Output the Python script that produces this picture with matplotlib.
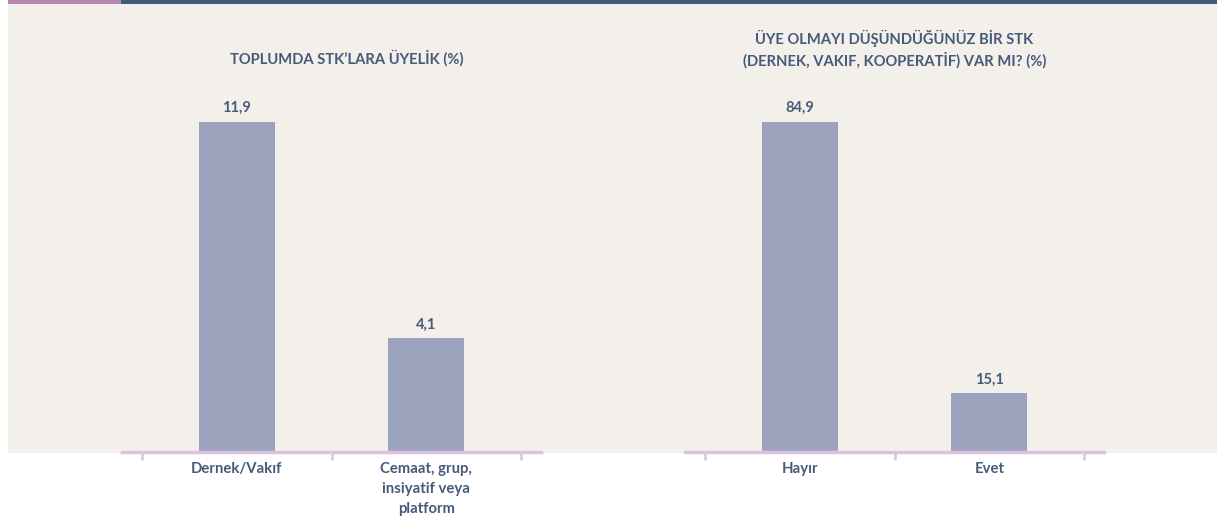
import matplotlib.pyplot as plt
from matplotlib.patches import Rectangle

# Survey results (%)
membership_labels = ["Dernek/Vakıf", "Cemaat, grup,\ninsiyatif veya\nplatform"]
membership_values = [11.9, 4.1]
membership_title = "TOPLUMDA STK’LARA ÜYELİK (%)"

intent_labels = ["Hayır", "Evet"]
intent_values = [84.9, 15.1]
intent_title = "ÜYE OLMAYI DÜŞÜNDÜĞÜNÜZ BİR STK\n(DERNEK, VAKIF, KOOPERATİF) VAR MI? (%)"

BG = "#f3f0eb"
BAR = "#9aa3bb"
TEXT = "#465a7a"
LINE = "#dcc2dc"
SLATE = "#465b7b"
PINK = "#b887b0"

plt.rcParams['font.family'] = ['Lato', 'DejaVu Sans']

W, H = 1217, 521
fig = plt.figure(figsize=(W / 100, H / 100), dpi=100)
fig.patch.set_facecolor("white")


def px(x, y):
    # pixel coords (from top-left) to figure fraction
    return x / W, 1 - y / H


# panel background and top strip
x0, y0 = px(8, 453)
fig.add_artist(Rectangle((x0, y0), 1 - x0, (453 - 4) / H, transform=fig.transFigure,
                         facecolor=BG, edgecolor="none", zorder=0))
fig.add_artist(Rectangle(px(8, 4), 113 / W, 4 / H, transform=fig.transFigure,
                         facecolor=PINK, edgecolor="none", zorder=0))
fig.add_artist(Rectangle(px(121, 4), 1 - 121 / W, 4 / H, transform=fig.transFigure,
                         facecolor=SLATE, edgecolor="none", zorder=0))


def draw_panel(left_px, labels, values, title, title_x, title_y):
    ax = fig.add_axes([left_px / W, 69 / H, 419 / W, 330 / H])
    ax.set_facecolor("none")
    pos = range(len(values))
    ax.bar(pos, values, width=0.4, color=BAR, zorder=2)
    ax.set_xlim(-0.6055, len(values) - 0.3945)
    ax.set_ylim(0, max(values))
    for p, v in zip(pos, values):
        ax.annotate(f"{v:.1f}".replace(".", ","), (p, v), xytext=(0, 5),
                    textcoords="offset points", ha="center", va="bottom",
                    fontsize=10.5, fontweight="bold", color=TEXT)
    for s in ["top", "left", "right"]:
        ax.spines[s].set_visible(False)
    ax.spines["bottom"].set_color(LINE)
    ax.spines["bottom"].set_linewidth(2.5)
    ax.set_yticks([])
    ax.set_xticks(list(pos))
    ax.set_xticklabels(labels, fontsize=10.7, fontweight="bold", color=TEXT,
                       linespacing=1.58, va="top")
    ax.tick_params(axis="x", which="major", length=0, pad=7)
    ax.set_xticks([p - 0.5 for p in pos] + [len(values) - 0.5], minor=True)
    ax.tick_params(axis="x", which="minor", length=6, width=1.8, color=LINE,
                   direction="out")
    fig.text(title_x / W, 1 - title_y / H, title, ha="center", va="center",
             fontsize=10.6, fontweight="bold", color=TEXT, linespacing=1.35)
    return ax


draw_panel(122, membership_labels, membership_values, membership_title, 347, 58)
draw_panel(685, intent_labels, intent_values, intent_title, 894.5, 49)

fig.savefig("out.png", dpi=100, facecolor=fig.get_facecolor())
